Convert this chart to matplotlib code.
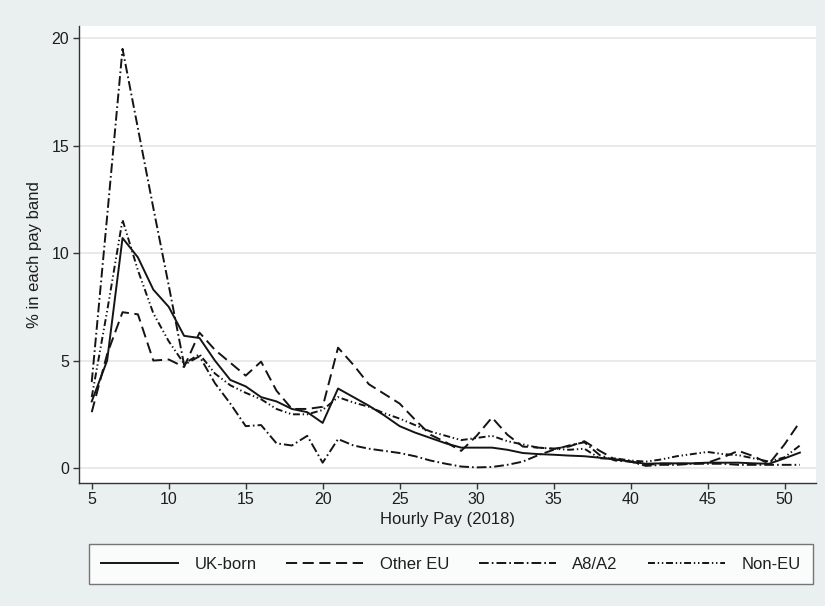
import matplotlib
matplotlib.use("Agg")
import matplotlib.pyplot as plt
import numpy as np

# hourly pay bands (GBP, 2018)
pay = np.arange(5, 52)

uk_born = [3.1, 5.0, 10.7, 9.8, 8.3, 7.5, 6.15, 6.05, 5.0, 4.1,
           3.8, 3.3, 3.1, 2.75, 2.6, 2.1, 3.7, 3.3, 2.9, 2.45,
           1.95, 1.65, 1.4, 1.15, 0.95, 0.95, 0.95, 0.85, 0.7, 0.65,
           0.62, 0.58, 0.55, 0.48, 0.4, 0.3, 0.2, 0.22, 0.22, 0.22,
           0.25, 0.25, 0.25, 0.22, 0.2, 0.45, 0.72]
other_eu = [2.6, 5.3, 7.25, 7.15, 5.0, 5.05, 4.7, 6.3, 5.5, 4.9,
            4.3, 4.95, 3.6, 2.75, 2.75, 2.85, 5.6, 4.8, 3.9, 3.45,
            3.0, 2.25, 1.55, 1.2, 0.8, 1.5, 2.35, 1.55, 1.0, 0.95,
            0.9, 1.0, 1.25, 0.8, 0.4, 0.3, 0.15, 0.2, 0.2, 0.2,
            0.25, 0.5, 0.8, 0.55, 0.2, 1.1, 2.15]
a8_a2 = [4.0, 11.7, 19.5, 15.8, 12.1, 8.5, 4.8, 5.2, 3.95, 3.0,
         1.95, 2.0, 1.15, 1.05, 1.5, 0.25, 1.35, 1.05, 0.9, 0.8,
         0.7, 0.55, 0.35, 0.2, 0.07, 0.03, 0.05, 0.15, 0.3, 0.6,
         0.85, 1.05, 1.2, 0.6, 0.35, 0.3, 0.1, 0.15, 0.15, 0.2,
         0.2, 0.2, 0.15, 0.15, 0.15, 0.15, 0.15]
non_eu = [3.3, 7.3, 11.55, 9.2, 7.2, 5.9, 4.85, 5.3, 4.4, 3.85,
          3.5, 3.2, 2.75, 2.5, 2.5, 2.7, 3.3, 3.05, 2.85, 2.55,
          2.3, 2.0, 1.7, 1.5, 1.3, 1.4, 1.5, 1.25, 1.1, 0.95,
          0.9, 0.85, 0.9, 0.45, 0.45, 0.35, 0.3, 0.4, 0.55, 0.65,
          0.75, 0.65, 0.6, 0.45, 0.3, 0.5, 1.05]

labels = ["UK-born", "Other EU", "A8/A2", "Non-EU"]

plt.rcParams['font.family'] = ['Liberation Sans', 'DejaVu Sans']
plt.rcParams['lines.scale_dashes'] = False

bg = '#eaf0f0'
fig = plt.figure(figsize=(8.25, 6.06), dpi=100, facecolor=bg)
ax = fig.add_axes([0.0958, 0.2035, 0.893, 0.7535])
ax.set_facecolor('white')

ink = '#141414'
lw = 1.4
ax.plot(pay, uk_born, color=ink, lw=lw, linestyle='-', label=labels[0])
ax.plot(pay, other_eu, color=ink, lw=lw, linestyle=(0, (8, 4)), label=labels[1])
ax.plot(pay, a8_a2, color=ink, lw=lw, linestyle=(0, (7, 2.2, 1.2, 2.2)), label=labels[2])
ax.plot(pay, non_eu, color=ink, lw=lw, linestyle=(0, (5, 2, 1, 2, 1, 2)), label=labels[3])

ax.set_xlim(4.175, 52.03)
ax.set_ylim(-0.68, 20.56)
ax.set_xticks(np.arange(5, 51, 5))
ax.set_yticks(np.arange(0, 21, 5))
ax.grid(axis='y', color='#e4e6e6', lw=1.2)
ax.set_axisbelow(True)

for s in ['top', 'right']:
    ax.spines[s].set_visible(False)
for s in ['left', 'bottom']:
    ax.spines[s].set_color('#333333')
    ax.spines[s].set_linewidth(1.0)
ax.tick_params(direction='out', length=4.5, width=1.0, color='#333333',
               labelsize=11.5, labelcolor='#1e1e1e', pad=2.5)

ax.set_xlabel("Hourly Pay (2018)", fontsize=12, color='#1e1e1e', labelpad=3)
ax.set_ylabel("% in each pay band", fontsize=12, color='#1e1e1e', labelpad=7)

# legend row under the plot, keys and labels in one line
leg = fig.legend(loc='lower left', bbox_to_anchor=(0.1074, 0.0363, 0.878, 0.066),
                 mode='expand', ncol=4, frameon=True, fancybox=False,
                 handlelength=4.6, handletextpad=1.0, borderaxespad=0,
                 fontsize=12, borderpad=0.75)
leg.get_frame().set_edgecolor('#555555')
leg.get_frame().set_linewidth(1.0)
leg.get_frame().set_facecolor('white')
for t in leg.get_texts():
    t.set_color('#1e1e1e')

fig.savefig('out.png', dpi=100, facecolor=bg)
